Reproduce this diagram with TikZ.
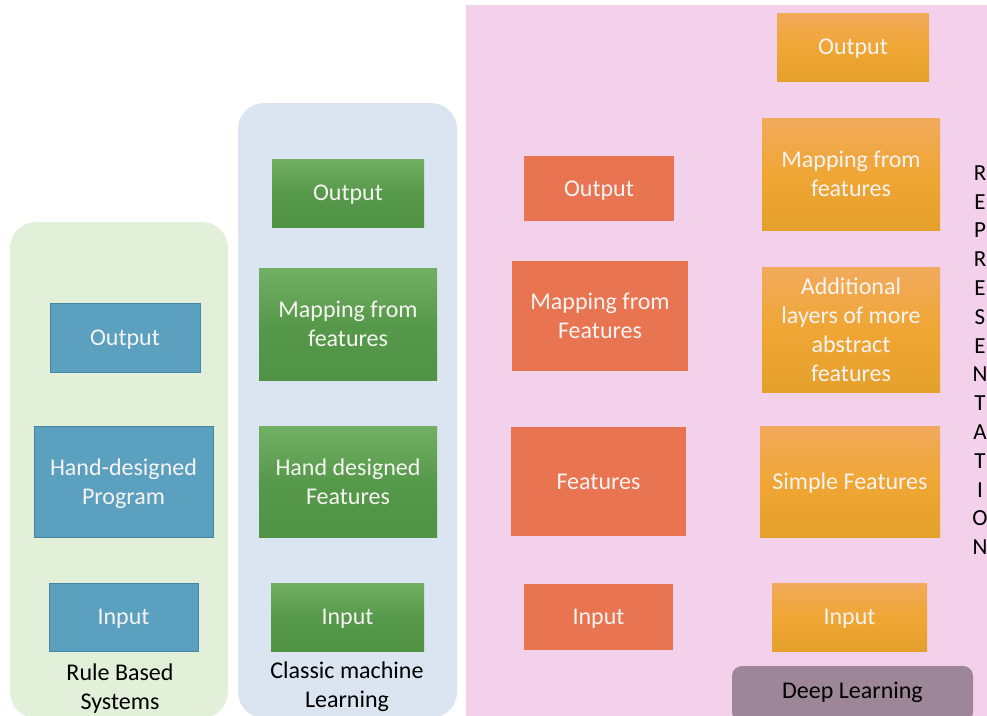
\documentclass[tikz,border=0pt]{standalone}
\usepackage{fontspec}
\setmainfont{Carlito}
\definecolor{panelgreen}{RGB}{226,240,217}
\definecolor{panelblue}{RGB}{219,228,241}
\definecolor{panelpink}{RGB}{243,209,235}
\definecolor{tealfill}{RGB}{91,160,191}
\definecolor{tealedge}{RGB}{70,135,165}
\definecolor{greentop}{RGB}{114,176,100}
\definecolor{greenbot}{RGB}{80,147,68}
\definecolor{coral}{RGB}{232,116,82}
\definecolor{orangetop}{RGB}{241,170,92}
\definecolor{orangebot}{RGB}{229,160,44}
\definecolor{orangemid}{RGB}{240,166,52}
\definecolor{mauve}{RGB}{157,134,151}
\definecolor{boxtext}{RGB}{246,244,242}
\tikzset{
  every node/.style={font=\fontsize{24}{29}\selectfont},
  panel/.style={rounded corners=26pt, draw=none},
  blockbox/.style={rectangle, inner sep=0pt, align=center, text=boxtext, text depth=0pt},
  tealbox/.style={blockbox, fill=tealfill, draw=tealedge, line width=0.8pt},
  greenbox/.style={blockbox, top color=greentop, bottom color=greenbot, middle color=greenbot!80!greentop},
  coralbox/.style={blockbox, fill=coral},
  orangebox/.style={blockbox, top color=orangetop, bottom color=orangebot, middle color=orangemid},
  caption/.style={align=center, text=black},
}
\begin{document}
\begin{tikzpicture}[x=1pt, y=-1pt]
\useasboundingbox (0,0) rectangle (987,715);
\begin{scope}
\clip (0,0) rectangle (987,715);
% background panels
\fill[panelgreen, panel] (10,222) rectangle (228,718);
\fill[panelblue, panel] (238,103) rectangle (457,718);
\fill[panelpink] (466,5) rectangle (992,720);
\fill[mauve, rounded corners=10pt] (732,666) rectangle (973,722);
\end{scope}

% rule based systems
\node[tealbox, minimum width=150pt, minimum height=69pt] (rbout) at (125,337.5) {Output};
\node[tealbox, minimum width=179pt, minimum height=111pt] (rbprog) at (123.5,481.5) {Hand-designed\\Program};
\node[tealbox, minimum width=149pt, minimum height=68pt] (rbin) at (123.5,617) {Input};
\node[caption] (rblabel) at (120,689) {Rule Based\\Systems};

% classic machine learning
\node[greenbox, minimum width=152pt, minimum height=68pt] (cmout) at (348,193) {Output};
\node[greenbox, minimum width=178pt, minimum height=112pt] (cmmap) at (348,324) {Mapping from\\features};
\node[greenbox, minimum width=178pt, minimum height=111pt] (cmfeat) at (348,481.5) {Hand designed\\Features};
\node[greenbox, minimum width=153pt, minimum height=68pt] (cmin) at (347.5,617) {Input};
\node[caption] (cmlabel) at (347,686.5) {Classic machine\\Learning};

% deep learning, first column
\node[coralbox, minimum width=150pt, minimum height=65pt] (dlout) at (599,188.5) {Output};
\node[coralbox, minimum width=176pt, minimum height=110pt] (dlmap) at (600,316) {Mapping from\\Features};
\node[coralbox, minimum width=175pt, minimum height=109pt] (dlfeat) at (598.5,481.5) {Features};
\node[coralbox, minimum width=149pt, minimum height=66pt] (dlin) at (598.5,617) {Input};

% deep learning, second column
\node[orangebox, minimum width=152pt, minimum height=68pt] (drout) at (853,47) {Output};
\node[orangebox, minimum width=178pt, minimum height=112pt] (drmap) at (851,174) {Mapping from\\features};
\node[orangebox, minimum width=178pt, minimum height=125pt] (drabs) at (851,329.5) {Additional\\layers of more\\abstract\\features};
\node[orangebox, minimum width=180pt, minimum height=111pt] (drsimple) at (850,481.5) {Simple Features};
\node[orangebox, minimum width=155pt, minimum height=68pt] (drin) at (849.5,617) {Input};
\node[caption] (dllabel) at (852.5,692) {Deep Learning};

% vertical caption
\node[caption, font=\fontsize{23}{28.8}\selectfont, anchor=north] (repr) at (980,162)
  {R\\E\\P\\R\\E\\S\\E\\N\\T\\A\\T\\I\\O\\N};
\end{tikzpicture}
\end{document}
